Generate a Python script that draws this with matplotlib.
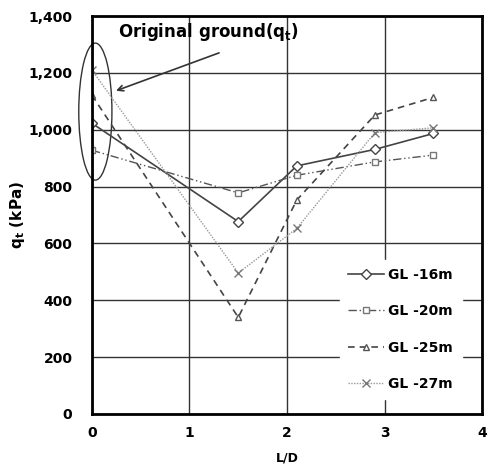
import matplotlib
matplotlib.use('Agg')
import matplotlib.pyplot as plt
from matplotlib.patches import Ellipse

x = [0, 1.5, 2.1, 2.9, 3.5]
gl16 = [1023, 677, 873, 931, 987]
gl20 = [928, 778, 840, 887, 911]
gl25 = [1122, 340, 753, 1052, 1114]
gl27 = [1210, 496, 653, 990, 1007]
labels = ['GL -16m', 'GL -20m', 'GL -25m', 'GL -27m']

fig = plt.figure(figsize=(4.89, 4.67), dpi=100)
ax = fig.add_axes([0.188, 0.1135, 0.798, 0.852])

ax.plot(x, gl16, color='#444444', lw=1.2, ls='-', marker='D', ms=5,
        mfc='white', mec='#444444', label=labels[0])
ax.plot(x, gl20, color='#555555', lw=1.0, ls=(0, (6, 2, 1, 2, 1, 2)), marker='s', ms=5,
        mfc='white', mec='#777777', label=labels[1])
ax.plot(x, gl25, color='#444444', lw=1.2, ls=(0, (4, 3)), marker='^', ms=5,
        mfc='white', mec='#555555', label=labels[2])
ax.plot(x, gl27, color='#999999', lw=1.0, ls=(0, (1, 1)), marker='x', ms=6,
        mec='#777777', label=labels[3])

ax.set_xlim(0, 4)
ax.set_ylim(0, 1400)
ax.set_xticks([0, 1, 2, 3, 4])
ax.set_yticks(range(0, 1401, 200))
ax.set_yticklabels([f'{v:,}' for v in range(0, 1401, 200)])
ax.grid(True, color='#333333', lw=1.0)
ax.set_axisbelow(True)
ax.tick_params(axis='y', length=0, labelsize=10, pad=14)
ax.tick_params(axis='x', length=0, labelsize=10, pad=9)
for lab in ax.get_xticklabels() + ax.get_yticklabels():
    lab.set_fontweight('bold')
for s in ax.spines.values():
    s.set_linewidth(2)
    s.set_color('black')

ax.set_xlabel('L/D', fontsize=9, fontweight='bold', labelpad=8)
ax.set_ylabel('q$_\\mathbf{t}$ (kPa)', fontsize=11, fontweight='bold', labelpad=1)

ax.add_patch(Ellipse((0.035, 1064), 0.34, 482, fill=False, ec='#333333', lw=1.0,
                     clip_on=False))
ax.annotate('', xy=(0.22, 1134), xytext=(1.33, 1274),
            arrowprops=dict(arrowstyle='->', color='#333333', lw=1.2))
ax.text(0.27, 1345, 'Original ground(q$_\\mathregular{t}$)', fontsize=12,
        fontweight='bold', va='center', ha='left')

leg = ax.legend(loc='lower right', bbox_to_anchor=(0.965, 0.02), frameon=True,
                fontsize=10, labelspacing=1.6, handlelength=2.6, handletextpad=0.3,
                borderpad=0.6)
leg.get_frame().set_edgecolor('white')
leg.get_frame().set_facecolor('white')
leg.get_frame().set_alpha(1)
for t in leg.get_texts():
    t.set_fontweight('bold')

fig.savefig('out.png', dpi=100)
